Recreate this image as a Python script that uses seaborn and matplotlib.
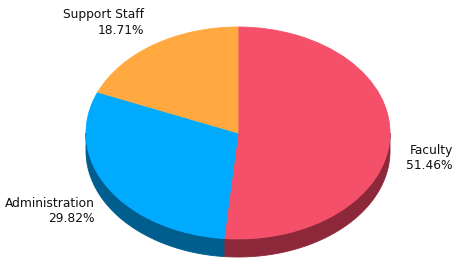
import numpy as np
import matplotlib
import matplotlib.pyplot as plt
import seaborn as sns

matplotlib.use('Agg')

# Data
categories = ['Faculty', 'Administration', 'Support Staff']
shares = [51.46, 29.82, 18.71]
top_colors = ['#F5506A', '#00AAFF', '#FFA940']
side_colors = ['#8C2839', '#005E8E', '#A86A22']

sns.set_theme(style='white')
plt.rcParams['font.family'] = ['DejaVu Sans']

fig = plt.figure(figsize=(4.54, 2.63), dpi=100)
ax = fig.add_axes([0, 0, 1, 1])

# pie is a unit circle squashed into an ellipse by the axis limits
depth = 0.17
start = 90.0
total = sum(shares)
edges = [start]
for s in shares:
    edges.append(edges[-1] - s / total * 360)

# side walls: only the front half (angles -180..0) is visible
for i in range(len(shares)):
    lo = max(edges[i + 1], -180)
    hi = min(edges[i], 0)
    if hi <= lo:
        continue
    t = np.radians(np.linspace(lo, hi, 120))
    xs = np.concatenate([np.cos(t), np.cos(t[::-1])])
    ys = np.concatenate([np.sin(t), np.sin(t[::-1]) - depth])
    ax.fill(xs, ys, color=side_colors[i], lw=0.6, ec=side_colors[i])

wedges, _ = ax.pie(shares, colors=top_colors, startangle=start, counterclock=False,
                   radius=1, center=(0, 0), wedgeprops=dict(linewidth=0.6))
for w in wedges:
    w.set_edgecolor(w.get_facecolor())

ax.set_aspect('auto')
# centre of the top face at pixel (238, 133), radii 152 x 106 px
ax.set_xlim(-238 / 152, (454 - 238) / 152)
ax.set_ylim(-(263 - 133) / 106, 133 / 106)
ax.axis('off')

# labels
label_pos = {'Faculty': (0.997, 0.40),
             'Administration': (0.208, 0.198),
             'Support Staff': (0.318, 0.915)}
for cat, val in zip(categories, shares):
    x, y = label_pos[cat]
    fig.text(x, y, f'{cat}\n{val:.2f}%', ha='right', va='center', multialignment='right',
             fontsize=8.8, color='#111111', linespacing=1.25)

fig.savefig('out.png', dpi=100, facecolor='white')
